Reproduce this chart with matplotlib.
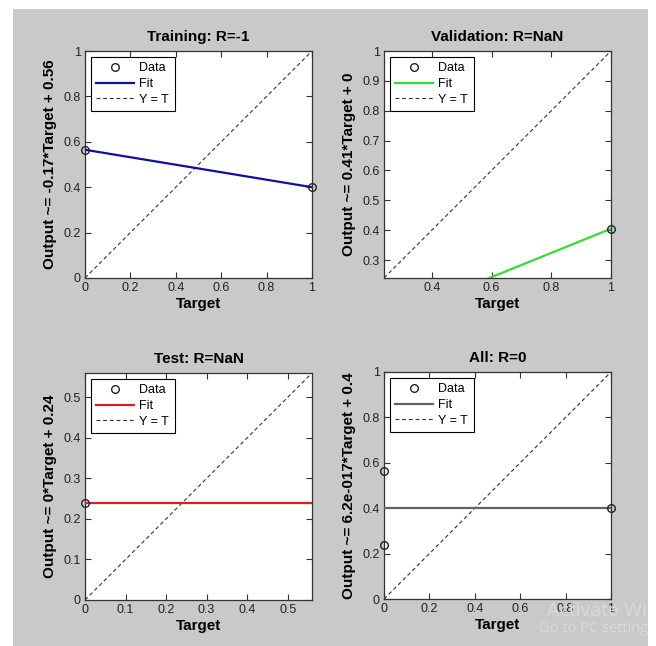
import matplotlib.pyplot as plt
from matplotlib.ticker import FormatStrFormatter
import numpy as np

plt.rcParams['font.family'] = ['Liberation Sans', 'DejaVu Sans']

# Panel data (targets, outputs, fit slope / intercept, axis limits)
titles = ['Training: R=-1', 'Validation: R=NaN', 'Test: R=NaN', 'All: R=0']
ylabels = ['Output ~= -0.17*Target + 0.56', 'Output ~= 0.41*Target + 0',
           'Output ~= 0*Target + 0.24', 'Output ~= 6.2e-017*Target + 0.4']
targets = [[0, 1], [1], [0], [0, 0, 1]]
outputs = [[0.565, 0.40], [0.405], [0.24], [0.565, 0.24, 0.40]]
slopes = [-0.165, 0.405, 0.0, 0.0]
intercepts = [0.565, 0.0, 0.24, 0.40]
lims = [(0, 1), (0.24, 1), (0, 0.56), (0, 1)]
xticks = [[0, 0.2, 0.4, 0.6, 0.8, 1], [0.4, 0.6, 0.8, 1],
          [0, 0.1, 0.2, 0.3, 0.4, 0.5], [0, 0.2, 0.4, 0.6, 0.8, 1]]
yticks = [[0, 0.2, 0.4, 0.6, 0.8, 1], [0.3, 0.4, 0.5, 0.6, 0.7, 0.8, 0.9, 1],
          [0, 0.1, 0.2, 0.3, 0.4, 0.5], [0, 0.2, 0.4, 0.6, 0.8, 1]]
fit_colors = ['#1010a0', '#33dd33', '#d42020', '#646464']

W, H = 656, 646
fig = plt.figure(figsize=(W / 100, H / 100), dpi=100, facecolor='white')

# grey figure area (behind everything)
bg = fig.add_axes([13 / W, 0, (648 - 13) / W, (H - 9) / H], zorder=-10)
bg.set_facecolor('#c9c9c9')
bg.set_xticks([])
bg.set_yticks([])
for s in bg.spines.values():
    s.set_visible(False)

# axes boxes in pixels: left, top
boxes = [(85, 51), (384, 51), (85, 373), (384, 372)]
size = 227

for i in range(4):
    left, top = boxes[i]
    ax = fig.add_axes([left / W, (H - top - size) / H, size / W, size / H])
    lo, hi = lims[i]
    xs = np.array([lo, hi])
    ax.plot(targets[i], outputs[i], 'o', mfc='none', mec='#222222', ms=5.5,
            mew=1, label='Data', zorder=4, clip_on=False)
    ax.plot(xs, slopes[i] * xs + intercepts[i], '-', color=fit_colors[i],
            lw=1.6, label='Fit', zorder=3)
    ax.plot(xs, xs, '--', color='#333333', lw=0.8, dashes=(3.5, 2.5),
            label='Y = T', zorder=2)
    ax.set_xlim(lo, hi)
    ax.set_ylim(lo, hi)
    ax.set_xticks(xticks[i])
    ax.set_yticks(yticks[i])
    ax.xaxis.set_major_formatter(FormatStrFormatter('%g'))
    ax.yaxis.set_major_formatter(FormatStrFormatter('%g'))
    ax.tick_params(direction='in', length=4, width=0.8, top=True, right=True,
                   labelsize=9, colors='#333333', labelcolor='#222222', pad=3)
    for s in ax.spines.values():
        s.set_color('#333333')
        s.set_linewidth(0.9)
    ax.set_title(titles[i], fontsize=11, fontweight='bold', pad=7)
    ax.set_xlabel('Target', fontsize=11, fontweight='bold', labelpad=2)
    ax.set_ylabel(ylabels[i], fontsize=11, fontweight='bold', labelpad=5)
    leg = ax.legend(loc='upper left', fontsize=9, fancybox=False,
                    edgecolor='black', framealpha=1, borderaxespad=0.45,
                    handlelength=3.0, handletextpad=0.45, labelspacing=0.3,
                    borderpad=0.45, numpoints=1)
    leg.get_frame().set_linewidth(0.8)

# faint watermark, as much as is visible in the original screenshot
fig.text(547 / W, 1 - 611 / H, 'Activate Wi', fontsize=14, color='#dadada',
         family='Open Sans', va='center', ha='left')
fig.text(539 / W, 1 - 629 / H, 'Go to PC setting', fontsize=10.5, color='#dadada',
         family='Open Sans', va='center', ha='left')

fig.savefig('out.png', dpi=100, facecolor='white')
